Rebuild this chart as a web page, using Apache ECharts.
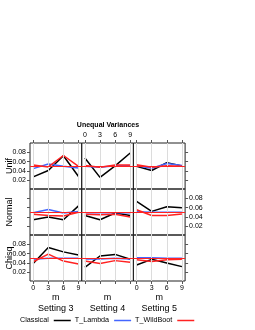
<!DOCTYPE html>
<html>
<head>
<meta charset="utf-8">
<script src="https://cdn.jsdelivr.net/npm/echarts@6/dist/echarts.min.js"></script>
<style>
html,body{margin:0;padding:0;background:#fff;}
#c{width:255px;height:330px;}
</style>
</head>
<body>
<div id="c"></div>
<script>
// ---- data ----
const m = [0, 3, 6, 9];
const xTickLabels = ['0', '3', '6', '9'];
const yTicks = [0.02, 0.04, 0.06, 0.08];
const yTickLabels = ['0.02', '0.04', '0.06', '0.08'];
const settings = ['Setting 3', 'Setting 4', 'Setting 5'];
const dists = ['Unif', 'Normal', 'Chisq'];
const methods = ['Classical', 'T_Lambda', 'T_WildBoot'];
const stripTitle = 'Unequal Variances';
const xName = 'm';
const nominal = 0.05;

// each: [Setting 3, Setting 4, Setting 5]
const classicalUnif   = [[0.027, 0.041, 0.073, 0.028], [0.068, 0.026, 0.051, 0.079], [0.050, 0.041, 0.058, 0.051]];
const lambdaUnif      = [[0.045, 0.055, 0.050, 0.0465], [0.050, 0.048, 0.051, 0.051], [0.051, 0.046, 0.056, 0.052]];
const wildUnif        = [[0.053, 0.0486, 0.0735, 0.050], [0.052, 0.048, 0.053, 0.053], [0.0535, 0.048, 0.0515, 0.050]];
const classicalNormal = [[0.034, 0.040, 0.034, 0.064], [0.043, 0.034, 0.0485, 0.043], [0.0736, 0.052, 0.062, 0.060]];
const lambdaNormal    = [[0.049, 0.056, 0.0485, 0.052], [0.049, 0.049, 0.049, 0.049], [0.051, 0.050, 0.050, 0.050]];
const wildNormal      = [[0.046, 0.043, 0.042, 0.050], [0.046, 0.045, 0.046, 0.040], [0.0557, 0.043, 0.043, 0.0465]];
const classicalChisq  = [[0.039, 0.0735, 0.064, 0.057], [0.0305, 0.055, 0.0585, 0.048], [0.0355, 0.0478, 0.040, 0.032]];
const lambdaChisq     = [[0.048, 0.050, 0.050, 0.050], [0.0484, 0.0484, 0.050, 0.0484], [0.051, 0.051, 0.050, 0.050]];
const wildChisq       = [[0.0426, 0.059, 0.044, 0.0377], [0.044, 0.039, 0.045, 0.0413], [0.047, 0.043, 0.047, 0.048]];

const table = [
  [classicalUnif, lambdaUnif, wildUnif],
  [classicalNormal, lambdaNormal, wildNormal],
  [classicalChisq, lambdaChisq, wildChisq]
];

// ---- layout/style ----
const colors = ['#000000', '#4466ff', '#ff2222'];
const colLeft = [30, 81.7, 133.4];
const panelW = 51.7;
const rowTop = [143, 189, 235];
const panelH = 46;
const FONT = 'Liberation Sans, Arial, sans-serif';
const tickColor = '#555';

const grids = [], xAxes = [], yAxes = [], series = [], graphics = [];

for (let r = 0; r < 3; r++) {
  for (let c = 0; c < 3; c++) {
    const idx = r * 3 + c;
    grids.push({
      left: colLeft[c], top: rowTop[r], width: panelW, height: panelH,
      show: true, borderColor: '#222', borderWidth: 1, backgroundColor: 'transparent'
    });
    xAxes.push({
      gridIndex: idx, type: 'value', min: -0.63, max: 9.63,
      position: r === 0 ? 'top' : 'bottom',
      axisLine: { show: false, onZero: false },
      axisTick: { show: r !== 1, customValues: m, length: 3, lineStyle: { color: tickColor, width: 1 } },
      axisLabel: {
        show: (r === 0 && c === 1) || (r === 2 && c !== 1),
        customValues: m, margin: 4, fontSize: 7, color: '#000', fontFamily: FONT,
        formatter: v => xTickLabels[m.indexOf(v)]
      },
      splitLine: { show: false }
    });
    yAxes.push({
      gridIndex: idx, type: 'value', min: 0.0008, max: 0.1006,
      position: c === 2 ? 'right' : 'left',
      axisLine: { show: false, onZero: false },
      axisTick: { show: c !== 1, customValues: yTicks, length: 3, lineStyle: { color: tickColor, width: 1 } },
      axisLabel: {
        show: (c === 0 && r !== 1) || (c === 2 && r === 1),
        customValues: yTicks, margin: 4, fontSize: 7, color: '#000', fontFamily: FONT,
        formatter: v => yTickLabels[yTicks.findIndex(t => Math.abs(t - v) < 1e-9)]
      },
      splitLine: { show: false }
    });
    // vertical reference grid lines at each m (invisible carrier line, visible markLines)
    series.push({
      type: 'line', name: '_grid' + idx, xAxisIndex: idx, yAxisIndex: idx, z: 1,
      data: m.map(x => [x, nominal]),
      symbol: 'none', silent: true, animation: false,
      lineStyle: { opacity: 0 },
      markLine: {
        silent: true, symbol: ['none', 'none'], label: { show: false }, animation: false,
        lineStyle: { color: '#dcdcdc', width: 1, type: 'solid' },
        data: m.map(v => ({ xAxis: v }))
      }
    });
    methods.forEach((name, k) => {
      const vals = table[r][k][c];
      const s = {
        type: 'line', name: name, xAxisIndex: idx, yAxisIndex: idx, z: 3,
        data: m.map((x, i) => [x, vals[i]]),
        symbol: 'none', showSymbol: false, animation: false,
        lineStyle: { color: colors[k], width: 1.5 }, itemStyle: { color: colors[k] }
      };
      if (k === 2) {
        s.markLine = {
          silent: true, symbol: ['none', 'none'], label: { show: false }, animation: false,
          lineStyle: { color: colors[2], width: 1, type: 'solid' },
          data: [{ yAxis: nominal }]
        };
      }
      series.push(s);
    });
  }
}

// text
graphics.push({ type: 'text', x: 108, y: 125, style: { text: stripTitle, font: 'bold 7px ' + FONT, fill: '#000', textAlign: 'center', textVerticalAlign: 'middle' } });
dists.forEach((d, r) => {
  graphics.push({ type: 'text', x: 10, y: rowTop[r] + panelH / 2, rotation: Math.PI / 2,
    style: { text: d, font: '9px ' + FONT, fill: '#000', textAlign: 'center', textVerticalAlign: 'middle' } });
});
settings.forEach((s, c) => {
  const cx = colLeft[c] + panelW / 2;
  graphics.push({ type: 'text', x: cx, y: 297.5, style: { text: xName, font: '9px ' + FONT, fill: '#000', textAlign: 'center', textVerticalAlign: 'middle' } });
  graphics.push({ type: 'text', x: cx, y: 309, style: { text: s, font: '9px ' + FONT, fill: '#000', textAlign: 'center', textVerticalAlign: 'middle' } });
});

const chart = echarts.init(document.getElementById('c'), null, { renderer: 'canvas' });
chart.setOption({
  animation: false,
  backgroundColor: '#fff',
  grid: grids, xAxis: xAxes, yAxis: yAxes, series: series,
  legend: {
    data: methods, left: 20, top: 317, align: 'right', orient: 'horizontal',
    icon: 'rect', itemWidth: 17, itemHeight: 1.5, itemGap: 4, padding: 0,
    textStyle: { fontSize: 7.2, color: '#000', fontFamily: FONT }
  },
  graphic: graphics
});
</script>
</body>
</html>
